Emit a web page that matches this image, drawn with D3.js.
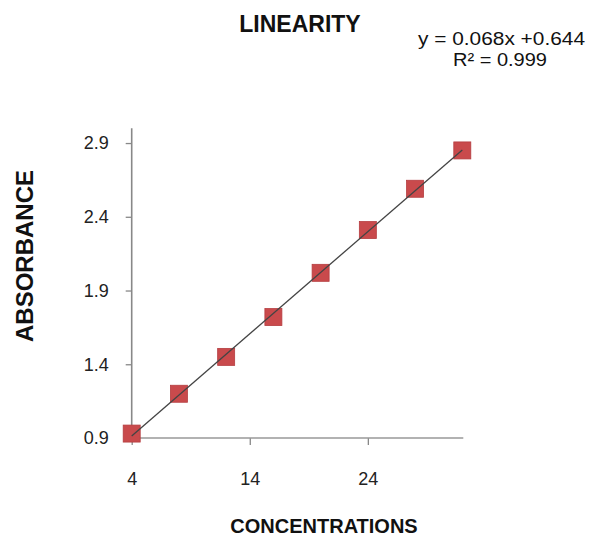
<!DOCTYPE html>
<html>
<head>
<meta charset="utf-8">
<script src="https://cdn.jsdelivr.net/npm/d3@7"></script>
<style>
  body { margin: 0; background: #fff; }
  svg text { font-family: "Liberation Sans", Arial, sans-serif; fill: #111; }
  .tick text { font-size: 18px; fill: #222; }
  .axis-title { font-weight: bold; }
</style>
</head>
<body>
<svg id="chart" width="589" height="536"></svg>
<script>
// data
var concentrations = [4, 8, 12, 16, 20, 24, 28, 32];
var absorbance = [0.93, 1.20, 1.45, 1.72, 2.02, 2.31, 2.59, 2.85];
var xTicks = [4, 14, 24];
var yTicks = [0.9, 1.4, 1.9, 2.4, 2.9];
var equationLines = ["y = 0.068x +0.644", "R\u00b2 = 0.999"];

(function() {
    const svg = d3.select("#chart");

    var x = d3.scaleLinear().domain([4, 32]).range([131.7, 462.3]);
    var y = d3.scaleLinear().domain([0.9, 3.0]).range([438, 128.3]);

    // axes, domain path removed and replaced with plain lines
    svg.append("g")
        .attr("transform", "translate(0,438)")
        .call(d3.axisBottom(x).tickValues(xTicks).tickFormat(d3.format("d")).tickSize(7).tickPadding(27))
        .call((g) => g.select(".domain").remove())
        .call((g) => g.selectAll(".tick line").attr("stroke", "#888").attr("stroke-width", 1.3));

    svg.append("g")
        .attr("transform", "translate(131.7,0)")
        .call(d3.axisLeft(y).tickValues(yTicks).tickFormat(d3.format(".1f")).tickSize(6).tickPadding(17))
        .call((g) => g.select(".domain").remove())
        .call((g) => g.selectAll(".tick line").attr("stroke", "#888").attr("stroke-width", 1.3));

    svg.append("line") // x axis
        .attr("x1", x.range()[0]).attr("x2", x.range()[1] + 1)
        .attr("y1", y.range()[0]).attr("y2", y.range()[0])
        .attr("stroke", "#999").attr("stroke-width", 1.6);
    svg.append("line") // y axis
        .attr("x1", x.range()[0]).attr("x2", x.range()[0])
        .attr("y1", y.range()[0]).attr("y2", y.range()[1])
        .attr("stroke", "#888").attr("stroke-width", 1.6);

    // least squares trendline through the points
    var n = concentrations.length;
    var mx = d3.mean(concentrations), my = d3.mean(absorbance);
    var sxy = d3.sum(concentrations, (c, i) => (c - mx) * (absorbance[i] - my));
    var sxx = d3.sum(concentrations, (c) => (c - mx) * (c - mx));
    var slope = sxy / sxx, intercept = my - slope * mx;

    // markers
    var s = 17;
    svg.append("g")
        .selectAll("rect")
        .data(concentrations)
        .enter()
        .append("rect")
            .attr("x", (d) => x(d) - s / 2)
            .attr("y", (d, i) => y(absorbance[i]) - s / 2)
            .attr("width", s)
            .attr("height", s)
            .attr("fill", "#c94a4c")
            .attr("stroke", "#b53d40")
            .attr("stroke-width", 0.8);

    var ends = [concentrations[0], concentrations[n - 1]];
    svg.append("path")
        .datum(ends)
        .attr("fill", "none")
        .attr("stroke", "#444")
        .attr("stroke-width", 1.3)
        .attr("d", d3.line().x((d) => x(d)).y((d) => y(slope * d + intercept)));

    // titles
    svg.append("text")
        .attr("x", 300).attr("y", 32)
        .attr("text-anchor", "middle")
        .style("font-size", "23px").style("font-weight", "bold")
        .text("LINEARITY");

    svg.append("text")
        .attr("x", 418).attr("y", 45)
        .attr("textLength", 167).attr("lengthAdjust", "spacingAndGlyphs")
        .style("font-size", "18.5px")
        .text(equationLines[0]);
    svg.append("text")
        .attr("x", 453).attr("y", 66)
        .attr("textLength", 94).attr("lengthAdjust", "spacingAndGlyphs")
        .style("font-size", "18.5px")
        .text(equationLines[1]);

    svg.append("text")
        .attr("class", "axis-title")
        .attr("x", 324).attr("y", 533)
        .attr("text-anchor", "middle")
        .style("font-size", "20px")
        .text("CONCENTRATIONS");

    svg.append("text")
        .attr("class", "axis-title")
        .attr("transform", "translate(33,256) rotate(-90)")
        .attr("text-anchor", "middle")
        .style("font-size", "24px")
        .text("ABSORBANCE");
})();
</script>
</body>
</html>
